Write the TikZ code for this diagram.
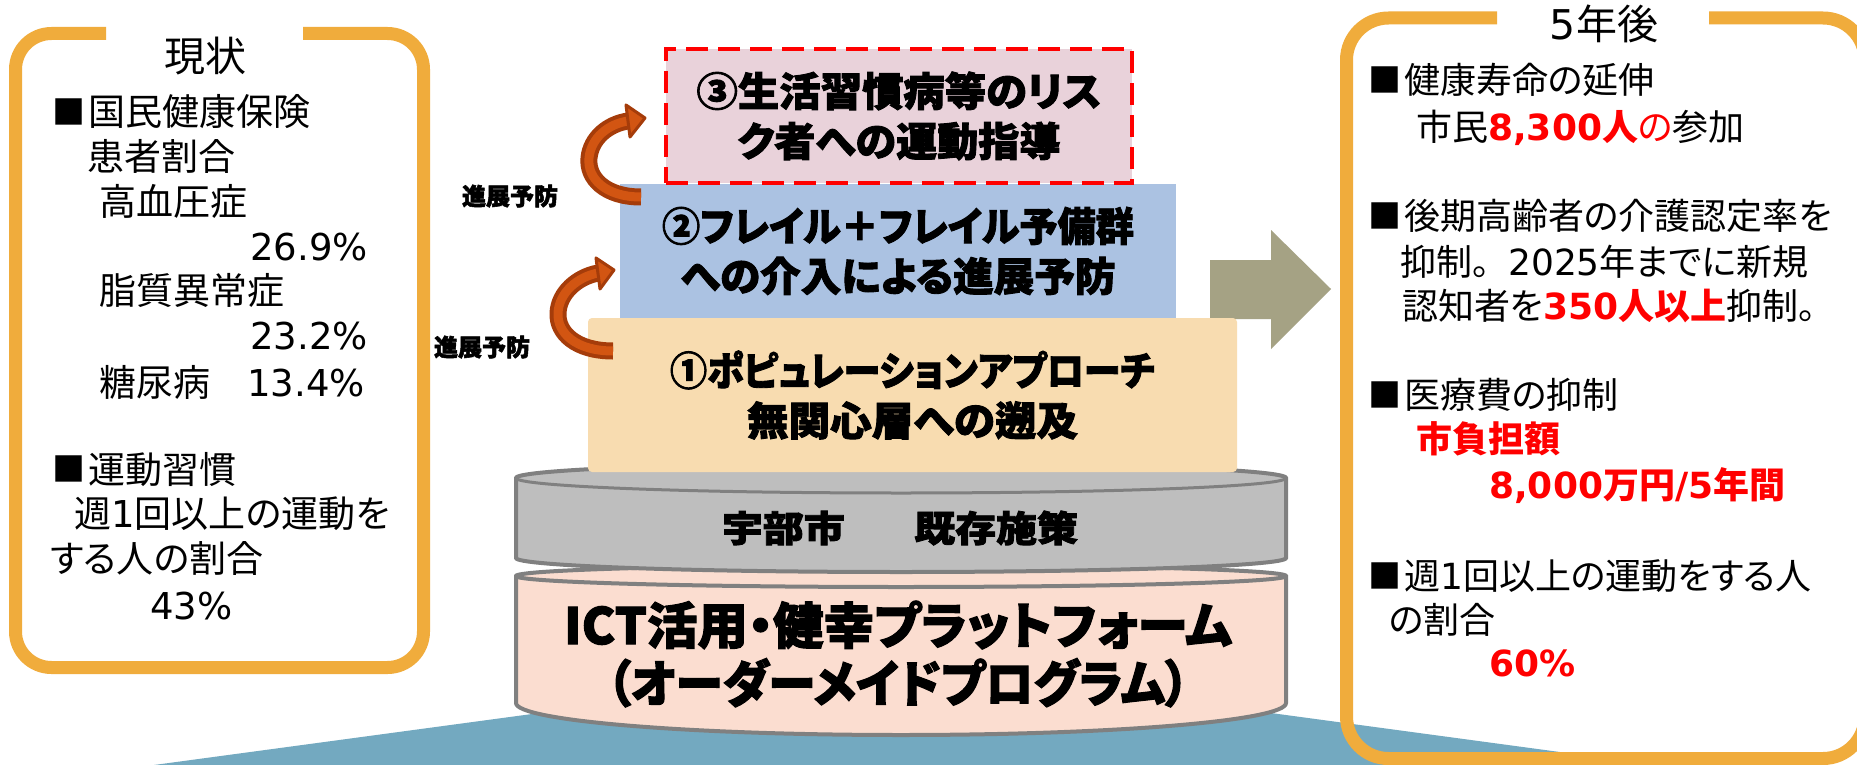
\documentclass[tikz,border=0pt]{standalone}
\usepackage{fontspec}
\usepackage{graphicx}
\newfontfamily\jp{Noto Sans CJK JP}[CharacterWidth=AlternateProportional]
\newfontfamily\jpn{Noto Sans CJK JP}
\newfontfamily\jph{Noto Sans CJK JP}[CharacterWidth=AlternateProportional, BoldFeatures={FakeBold=2.2}]
\newfontfamily\lat{DejaVu Sans}
\definecolor{obord}{RGB}{240,172,60}
\definecolor{boxthree}{RGB}{233,210,218}
\definecolor{boxtwo}{RGB}{171,194,226}
\definecolor{boxone}{RGB}{248,220,176}
\definecolor{cylgray}{RGB}{190,190,190}
\definecolor{cylline}{RGB}{128,128,128}
\definecolor{cylpink}{RGB}{251,221,208}
\definecolor{ground}{RGB}{115,169,192}
\definecolor{bigarrow}{RGB}{165,162,132}
\definecolor{arrdark}{RGB}{165,60,10}
\definecolor{arrmid}{RGB}{210,85,18}
\newcommand\redb[1]{\textcolor{red}{\bfseries #1}}
\newcommand\dg[1]{{\lat #1}}
\newcommand\sqb{\raisebox{1.5pt}{\fontsize{33}{36}\selectfont ■}\hspace{3pt}}
\newcommand\fitto[2]{\resizebox{#1}{\height}{#2}}
\tikzset{
  frame/.style={draw=obord, line width=13pt, rounded corners=36pt},
  cyl/.style={draw=cylline, line width=4pt},
  tier/.style={inner sep=0pt, align=center, font=\jph\bfseries\fontsize{40}{50}\selectfont},
  ltxt/.style={anchor=west, inner sep=0pt, text height=32.5pt, text depth=4.5pt, font=\jp\fontsize{37}{44}\selectfont},
  rtxt/.style={anchor=west, inner sep=0pt, text height=31.7pt, text depth=4.3pt, font=\jp\fontsize{36}{43}\selectfont},
  ttl/.style={inner sep=0pt, font=\jp\fontsize{41}{48}\selectfont},
  lab/.style={inner sep=0pt, font=\jph\bfseries\fontsize{24}{30}\selectfont},
  shaftout/.style={draw=arrdark, line width=17pt},
  shaftin/.style={draw=arrmid, line width=9pt},
  headtip/.style={fill=arrmid, draw=arrdark, line width=3pt, line join=round},
}
\begin{document}
\begin{tikzpicture}[x=1pt, y=-1pt]
\useasboundingbox (0,0) rectangle (1857,765);
\fill[white] (0,0) rectangle (1857,765);
% ground plane
\fill[ground] (154,765) -- (532,714) -- (1271,713) -- (1656,765) -- cycle;
% side frames
\draw[frame] (303,33.5) -- (423.5,33.5) -- (423.5,667.5) -- (15.5,667.5) -- (15.5,33.5) -- (106,33.5);
\draw[frame, rounded corners=42pt] (1709,18) -- (1865,18) -- (1865,758.5) -- (1346.5,758.5) -- (1346.5,18) -- (1497,18);
\node[ttl] (t1) at (205,56) {現状};
\node[ttl] (t2) at (1604,24) {\dg{5}年後};
% cylinders
\filldraw[cyl, fill=cylpink] (516,576) -- (516,703) arc[start angle=180, end angle=0, x radius=385, y radius=32] -- (1286,576) arc[start angle=0, end angle=-180, x radius=385, y radius=11] -- cycle;
\draw[cyl] (516,576) arc[start angle=180, end angle=0, x radius=385, y radius=11];
\filldraw[cyl, fill=cylgray] (516,478) -- (516,558) arc[start angle=180, end angle=0, x radius=385, y radius=14] -- (1286,478) arc[start angle=0, end angle=-180, x radius=385, y radius=15] -- cycle;
\draw[cyl, line width=3pt] (516,478) arc[start angle=180, end angle=0, x radius=385, y radius=15];
\node[tier, font=\jph\bfseries\fontsize{36}{46}\selectfont] (c1t) at (900,528) {\fitto{356pt}{宇部市\hspace{1.7em}既存施策}};
\node[tier, font=\jph\bfseries\fontsize{50}{58}\selectfont] (c2t) at (898,654) {\fitto{668pt}{ICT活用・健幸プラットフォーム}\\\fitto{582pt}{（オーダーメイドプログラム）}};
% big arrow
\fill[bigarrow] (1210,260) -- (1271,260) -- (1271,230) -- (1331,289) -- (1271,349) -- (1271,319) -- (1210,319) -- cycle;
% tiers
\node[tier, fill=boxone, rounded corners=4pt, minimum width=649pt, minimum height=154pt] (b1) at (912.5,395) {\fitto{485pt}{①ポピュレーションアプローチ}\\\fitto{331pt}{無関心層への遡及}};
\node[tier, fill=boxtwo, minimum width=556pt, minimum height=134pt] (b2) at (898,251) {\fitto{472pt}{②フレイル＋フレイル予備群}\\\fitto{435pt}{への介入による進展予防}};
\node[tier, fill=boxthree, draw=red, line width=4.5pt, dash pattern=on 22pt off 10pt, minimum width=466pt, minimum height=134pt] (b3) at (899,116) {\fitto{405pt}{③生活習慣病等のリス}\\\fitto{323pt}{ク者への運動指導}};
% curved arrows
\coordinate (u0) at (641,197);
\coordinate (u1) at (628,121);
\draw[shaftout] (u0) .. controls (605,197) and (587,178) .. (589,158) .. controls (591,138) and (608,124) .. (u1);
\draw[shaftin] (u0) .. controls (605,197) and (587,178) .. (589,158) .. controls (591,138) and (608,124) .. (u1);
\filldraw[headtip] (626,105) -- (645,118) -- (630,137) -- cycle;
\coordinate (d0) at (613,351);
\coordinate (d1) at (598,273);
\draw[shaftout] (d0) .. controls (576,351) and (557,333) .. (558,313) .. controls (559,293) and (577,277) .. (d1);
\draw[shaftin] (d0) .. controls (576,351) and (557,333) .. (558,313) .. controls (559,293) and (577,277) .. (d1);
\filldraw[headtip] (596,258) -- (614,270) -- (600,289) -- cycle;
\node[lab] (lab1) at (510,196) {進展予防};
\node[lab] (lab2) at (482,347) {進展予防};
% left texts
\node[ltxt] (l1) at (52,112) {\sqb 国民健康保険};
\node[ltxt] (l2) at (87,156) {患者割合};
\node[ltxt] (l3) at (99,201) {高血圧症};
\node[ltxt] (l4) at (250,246) {\dg{26.9\%}};
\node[ltxt] (l5) at (99,290) {脂質異常症};
\node[ltxt] (l6) at (250,335) {\dg{23.2\%}};
\node[ltxt] (l7) at (99,382) {糖尿病　\dg{13.4\%}};
\node[ltxt] (l8) at (52,469) {\sqb 運動習慣};
\node[ltxt] (l9) at (74,513) {週\dg{1}回以上の運動を};
\node[ltxt] (l10) at (50,558) {する人の割合};
\node[ltxt] (l11) at (150,605) {\dg{43\%}};
% right texts
\node[rtxt] (r1) at (1368,80) {\sqb 健康寿命の延伸};
\node[rtxt] (r2) at (1416,127) {市民\redb{\dg{8,300}人}\textcolor{red}{の}参加};
\node[rtxt] (r3) at (1368,216) {\sqb 後期高齢者の介護認定率を};
\node[rtxt] (r4) at (1400,262) {抑制{\jpn 。}\dg{2025}年までに新規};
\node[rtxt] (r5) at (1402,306) {認知者を\redb{\dg{350}人以上}抑制。};
\node[rtxt] (r6) at (1368,395) {\sqb 医療費の抑制};
\node[rtxt] (r7) at (1416,439) {\redb{市負担額}};
\node[rtxt] (r8) at (1489,485) {\redb{\dg{8,000}万円\dg{/5}年間}};
\node[rtxt] (r9) at (1368,576) {\sqb 週\dg{1}回以上の運動をする人};
\node[rtxt] (r10) at (1389,620) {の割合};
\node[rtxt] (r11) at (1489,663) {\redb{\dg{60\%}}};
\end{tikzpicture}
\end{document}
